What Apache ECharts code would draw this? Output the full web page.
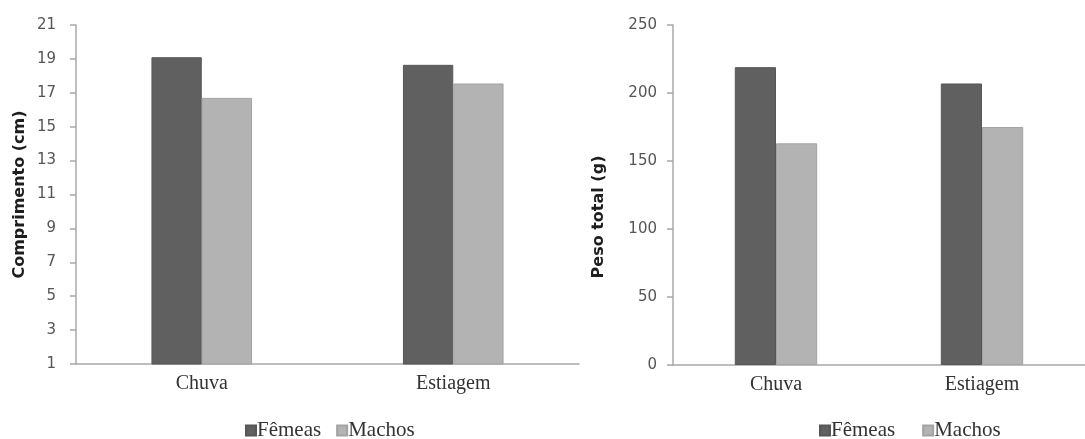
<!DOCTYPE html>
<html>
<head>
<meta charset="utf-8">
<script src="https://cdn.jsdelivr.net/npm/echarts@6/dist/echarts.min.js"></script>
<style>
  html, body { margin: 0; padding: 0; background: #ffffff; }
  #chart { width: 1085px; height: 439px; }
</style>
</head>
<body>
<div id="chart"></div>
<script>
// Periods sampled
const categories = ['Chuva', 'Estiagem'];
const seriesNames = ['Fêmeas', 'Machos'];

// Mean total length (cm) by sex
const comprimentoFemeas = [19.1, 18.65];
const comprimentoMachos = [16.7, 17.55];

// Mean total weight (g) by sex
const pesoFemeas = [219, 207];
const pesoMachos = [163, 175];

// Axis ranges
const comprimentoAxis = { min: 1, max: 21, interval: 2 };
const pesoAxis = { min: 0, max: 250, interval: 50 };

const colFemeas = '#606060';
const colMachos = '#b3b3b3';
const axisGray = '#a8a8a8';
const serif = '"Liberation Serif", "Times New Roman", serif';
const sans = '"DejaVu Sans", "Open Sans", sans-serif';

const chart = echarts.init(document.getElementById('chart'), null, { renderer: 'canvas' });

function xAxisFor(gridIndex) {
  return {
    type: 'category',
    gridIndex: gridIndex,
    data: categories,
    axisLine: { lineStyle: { color: axisGray, width: 1.5 } },
    axisTick: { show: false },
    axisLabel: { color: '#333', fontFamily: serif, fontSize: 20, margin: 10 }
  };
}

function yAxisFor(gridIndex, range, name, labelMargin, nameGap, namePadding) {
  return {
    type: 'value',
    gridIndex: gridIndex,
    min: range.min,
    max: range.max,
    interval: range.interval,
    name: name,
    nameLocation: 'middle',
    nameRotate: 90,
    nameGap: nameGap,
    nameTextStyle: { color: '#1e1e1e', fontFamily: sans, fontWeight: 'bold', fontSize: 16, padding: namePadding },
    axisLine: { show: true, lineStyle: { color: axisGray, width: 1.5 } },
    axisTick: { show: true, length: 6, lineStyle: { color: axisGray, width: 1.5 } },
    splitLine: { show: false },
    axisLabel: { color: '#555', fontFamily: sans, fontSize: 15, margin: labelMargin }
  };
}

function barSeries(name, xi, data, color, border) {
  return {
    name: name,
    type: 'bar',
    xAxisIndex: xi,
    yAxisIndex: xi,
    data: data,
    barGap: '0%',
    barCategoryGap: '60%',
    itemStyle: { color: color, borderColor: border, borderWidth: 1 },
    emphasis: { disabled: true }
  };
}

function legendAt(left, gap) {
  return {
    data: seriesNames.map(n => ({ name: n, icon: 'rect' })),
    left: left,
    top: 415,
    itemWidth: 10,
    itemHeight: 10,
    itemGap: gap,
    selectedMode: false,
    textStyle: { color: '#333', fontFamily: serif, fontSize: 21, padding: [0, 0, 0, -4] }
  };
}

chart.setOption({
  animation: false,
  backgroundColor: '#ffffff',
  grid: [
    { left: 76, right: 506, top: 25, bottom: 75 },
    { left: 673, right: -15, top: 25, bottom: 74 }
  ],
  legend: [legendAt(240, 15), legendAt(814, 27)],
  xAxis: [xAxisFor(0), xAxisFor(1)],
  yAxis: [
    yAxisFor(0, comprimentoAxis, 'Comprimento (cm)', 20, 48, 0),
    yAxisFor(1, pesoAxis, 'Peso total (g)', 16, 66, [0, 44, 0, 0])
  ],
  series: [
    barSeries(seriesNames[0], 0, comprimentoFemeas, colFemeas, '#575757'),
    barSeries(seriesNames[1], 0, comprimentoMachos, colMachos, '#a3a3a3'),
    barSeries(seriesNames[0], 1, pesoFemeas, colFemeas, '#575757'),
    barSeries(seriesNames[1], 1, pesoMachos, colMachos, '#a3a3a3')
  ]
});
</script>
</body>
</html>
